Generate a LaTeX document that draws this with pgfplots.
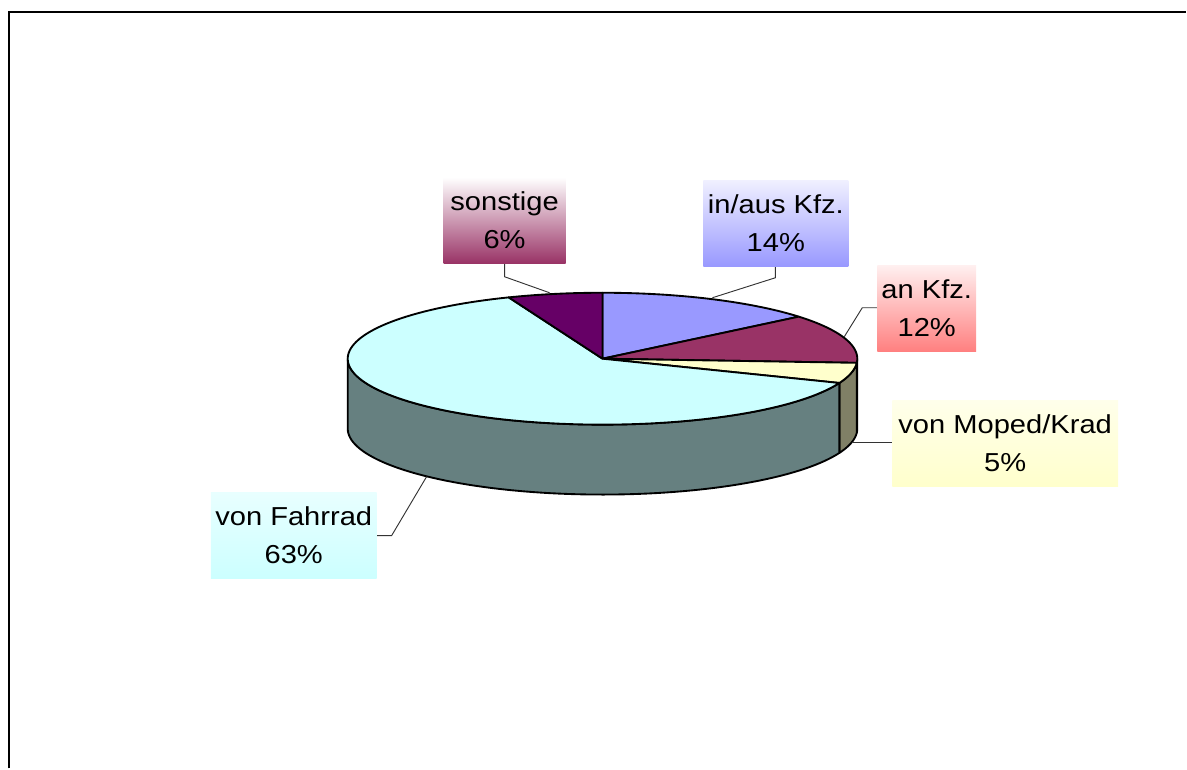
\documentclass[border=0pt]{standalone}
\usepackage{fontspec}
\setmainfont{Liberation Sans}[FakeStretch=1.12]
\usepackage{pgfplots}
\pgfplotsset{compat=1.18}
\usepgfplotslibrary{fillbetween}
\definecolor{cBlue}{HTML}{9999FF}
\definecolor{cMaroon}{HTML}{993366}
\definecolor{cMaroonS}{HTML}{4D1A33}
\definecolor{cYellow}{HTML}{FFFFCC}
\definecolor{cYellowS}{HTML}{808066}
\definecolor{cCyan}{HTML}{CCFFFF}
\definecolor{cCyanS}{HTML}{668080}
\definecolor{cPurple}{HTML}{660066}
\definecolor{cSalmon}{HTML}{FF8080}
% data (percent)
\def\vInaus{14}
\def\vAnKfz{12}
\def\vMoped{5}
\def\vFahrrad{63}
\def\vSonst{6}
\pgfmathsetmacro{\aA}{0}
\pgfmathsetmacro{\aB}{\aA+3.6*\vInaus}
\pgfmathsetmacro{\aC}{\aB+3.6*\vAnKfz}
\pgfmathsetmacro{\aD}{\aC+3.6*\vMoped}
\pgfmathsetmacro{\aE}{\aD+3.6*\vFahrrad}
\pgfmathsetmacro{\aF}{\aE+3.6*\vSonst}
\begin{document}
\begin{tikzpicture}
\begin{axis}[width=890.25pt, height=576.75pt, scale only axis,
  xmin=0, xmax=1187, ymin=0, ymax=769, hide axis, clip=false]
\path (axis cs:0,0) rectangle (axis cs:1187,769);
% frame
\draw[line width=1.5pt] (axis cs:9,0) -- (axis cs:9,756.5) -- (axis cs:1187,756.5);
% side faces
\addplot[draw=none, name path=mT, domain=90:\aC, samples=5] ({603+255*sin(x)},{410+66*cos(x)});
\addplot[draw=none, name path=mB, domain=90:\aC, samples=5] ({603+255*sin(x)},{340+66*cos(x)});
\addplot[fill=cMaroonS, draw=black, line width=1.4pt, line join=round] fill between[of=mT and mB];
\addplot[draw=none, name path=yT, domain=\aC:\aD, samples=20] ({603+255*sin(x)},{410+66*cos(x)});
\addplot[draw=none, name path=yB, domain=\aC:\aD, samples=20] ({603+255*sin(x)},{340+66*cos(x)});
\addplot[fill=cYellowS, draw=black, line width=1.4pt, line join=round] fill between[of=yT and yB];
\addplot[draw=none, name path=cT, domain=\aD:270, samples=80] ({603+255*sin(x)},{410+66*cos(x)});
\addplot[draw=none, name path=cB, domain=\aD:270, samples=80] ({603+255*sin(x)},{340+66*cos(x)});
\addplot[fill=cCyanS, draw=black, line width=1.4pt, line join=round] fill between[of=cT and cB];
% top faces
\addplot[fill=cBlue, draw=black, line width=1.4pt, line join=round, domain=\aA:\aB, samples=40] ({603+255*sin(x)},{410+66*cos(x)}) -- (axis cs:603,410) -- cycle;
\addplot[fill=cMaroon, draw=black, line width=1.4pt, line join=round, domain=\aB:\aC, samples=40] ({603+255*sin(x)},{410+66*cos(x)}) -- (axis cs:603,410) -- cycle;
\addplot[fill=cYellow, draw=black, line width=1.4pt, line join=round, domain=\aC:\aD, samples=20] ({603+255*sin(x)},{410+66*cos(x)}) -- (axis cs:603,410) -- cycle;
\addplot[fill=cCyan, draw=black, line width=1.4pt, line join=round, domain=\aD:\aE, samples=120] ({603+255*sin(x)},{410+66*cos(x)}) -- (axis cs:603,410) -- cycle;
\addplot[fill=cPurple, draw=black, line width=1.4pt, line join=round, domain=\aE:\aF, samples=20] ({603+255*sin(x)},{410+66*cos(x)}) -- (axis cs:603,410) -- cycle;
% leader lines
\draw[black!80, line width=0.7pt] (axis cs:505,506) -- (axis cs:505,492) -- (axis cs:550,476);
\draw[black!80, line width=0.7pt] (axis cs:776,502) -- (axis cs:776,491) -- (axis cs:713,471);
\draw[black!80, line width=0.7pt] (axis cs:878,461) -- (axis cs:863,461) -- (axis cs:845,432);
\draw[black!80, line width=0.7pt] (axis cs:893,326) -- (axis cs:853,326);
\draw[black!80, line width=0.7pt] (axis cs:377,233) -- (axis cs:392,233) -- (axis cs:427,292);
% labels
\tikzset{lbl/.style={inner sep=0pt, align=center, font=\fontsize{19.5}{28.5}\selectfont, minimum height=64.5pt}}
\node[lbl, top color=white, bottom color=cMaroon, minimum width=91.5pt] at (axis cs:505,548.5) {sonstige\\6\%};
\node[lbl, top color=cBlue!15!white, bottom color=cBlue, minimum width=108.75pt] at (axis cs:776.5,545.5) {in/aus Kfz.\\14\%};
\node[lbl, top color=cSalmon!12!white, bottom color=cSalmon, minimum width=74.25pt] at (axis cs:927.5,460.5) {an Kfz.\\12\%};
\node[lbl, top color=cYellow!40!white, bottom color=cYellow, minimum width=169.5pt] at (axis cs:1006,325.5) {von Moped/Krad\\5\%};
\node[lbl, top color=cCyan!45!white, bottom color=cCyan, minimum width=124.5pt] at (axis cs:294,233) {von Fahrrad\\63\%};
\end{axis}
\end{tikzpicture}
\end{document}
